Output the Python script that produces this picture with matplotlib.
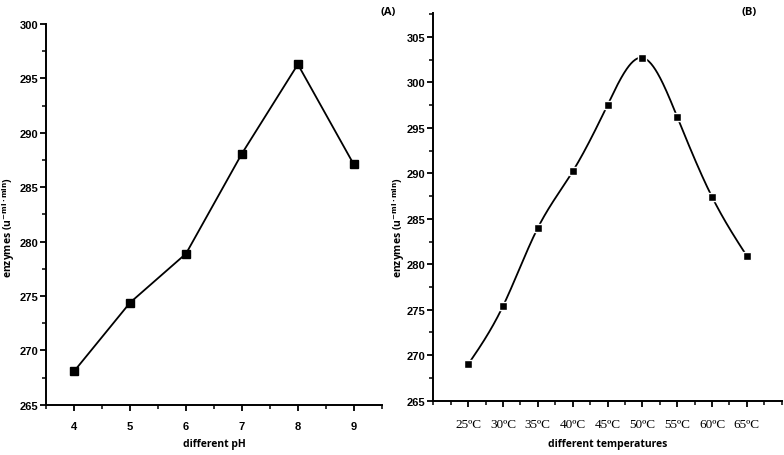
import numpy as np
import matplotlib.pyplot as plt
from matplotlib.ticker import MultipleLocator

# panel A: pH
ph = [4, 5, 6, 7, 8, 9]
enz_ph = [268.1, 274.4, 278.9, 288.1, 296.3, 287.1]

# panel B: temperature
temps = [25, 30, 35, 40, 45, 50, 55, 60, 65]
temp_labels = ['25ºC', '30ºC', '35ºC', '40ºC', '45ºC', '50ºC', '55ºC', '60ºC', '65ºC']
enz_temp = [269.0, 275.4, 284.0, 290.2, 297.5, 302.7, 296.2, 287.4, 280.9]


def natural_spline(x, y, n=400):
    x = np.asarray(x, float)
    y = np.asarray(y, float)
    k = len(x)
    h = np.diff(x)
    A = np.zeros((k, k))
    b = np.zeros(k)
    A[0, 0] = A[-1, -1] = 1
    for i in range(1, k - 1):
        A[i, i - 1] = h[i - 1]
        A[i, i] = 2 * (h[i - 1] + h[i])
        A[i, i + 1] = h[i]
        b[i] = 6 * ((y[i + 1] - y[i]) / h[i] - (y[i] - y[i - 1]) / h[i - 1])
    m = np.linalg.solve(A, b)
    xs = np.linspace(x[0], x[-1], n)
    idx = np.clip(np.searchsorted(x, xs) - 1, 0, k - 2)
    x0, x1 = x[idx], x[idx + 1]
    hh = x1 - x0
    t0, t1 = x1 - xs, xs - x0
    ys = (m[idx] * t0**3 + m[idx + 1] * t1**3) / (6 * hh) \
        + (y[idx] / hh - m[idx] * hh / 6) * t0 \
        + (y[idx + 1] / hh - m[idx + 1] * hh / 6) * t1
    return xs, ys


tick_font = {'family': ['Liberation Sans', 'DejaVu Sans'], 'weight': 'bold', 'size': 8}
label_font = {'family': ['Open Sans', 'DejaVu Sans'], 'weight': 'bold', 'size': 7.5}
ylab_font = {'family': ['Open Sans', 'DejaVu Sans'], 'weight': 'bold', 'size': 7.5}
ylabel_txt = r'enzymes (u$^{\mathbf{-ml\cdot min}}$)'

fig = plt.figure(figsize=(7.84, 4.56), dpi=100)
axA = fig.add_axes([0.059, 0.110, 0.4279, 0.835])
axB = fig.add_axes([0.5527, 0.119, 0.4444, 0.850])


def style(ax):
    for s in ['top', 'right']:
        ax.spines[s].set_visible(False)
    for s in ['left', 'bottom']:
        ax.spines[s].set_linewidth(1.4)
    ax.tick_params(which='major', direction='out', length=4.5, width=1.3)
    ax.tick_params(which='minor', direction='out', length=3, width=1.1)
    ax.tick_params(axis='y', which='major', pad=1.5)
    ax.yaxis.set_major_locator(MultipleLocator(5))
    ax.yaxis.set_minor_locator(MultipleLocator(2.5))
    for lab in ax.get_yticklabels():
        lab.set_fontproperties(tick_font)


# A
axA.plot(ph, enz_ph, color='black', lw=1.3, marker='s', ms=5.5, mfc='black', mec='black')
axA.set_xlim(3.5, 9.5)
axA.set_ylim(265, 300)
axA.xaxis.set_major_locator(MultipleLocator(1))
axA.xaxis.set_minor_locator(MultipleLocator(0.5))
style(axA)
axA.set_xticks(ph)
axA.set_xticklabels([str(v) for v in ph], fontdict=tick_font)
axA.tick_params(axis='x', which='major', pad=7)
axA.set_xlabel('different pH', fontdict=label_font, labelpad=5)
fig.text(0.5 / 784, 0.5, ylabel_txt, rotation=90, ha='left', va='center', fontdict=ylab_font)
fig.text(0.505, 0.985, '(A)', ha='right', va='top', fontsize=8, fontweight='bold',
         family=['Open Sans', 'DejaVu Sans'])

# B
xs, ys = natural_spline(temps, enz_temp)
axB.plot(xs, ys, color='black', lw=1.3)
axB.plot(temps, enz_temp, ls='none', marker='s', ms=5.5, mfc='black', mec='white', mew=1.0)
axB.set_xlim(20, 70)
axB.set_ylim(265, 307.6)
axB.xaxis.set_minor_locator(MultipleLocator(2.5))
style(axB)
axB.set_xticks(temps)
axB.set_xticklabels(temp_labels, fontdict={'family': ['Liberation Serif', 'DejaVu Serif'], 'size': 9.5})
axB.tick_params(axis='x', which='major', pad=8)
axB.set_xlabel('different temperatures', fontdict=label_font, labelpad=6)
fig.text(390 / 784, 0.5, ylabel_txt, rotation=90, ha='left', va='center', fontdict=ylab_font)
fig.text(0.965, 0.985, '(B)', ha='right', va='top', fontsize=8, fontweight='bold',
         family=['Open Sans', 'DejaVu Sans'])

fig.savefig('out.png', dpi=100)
